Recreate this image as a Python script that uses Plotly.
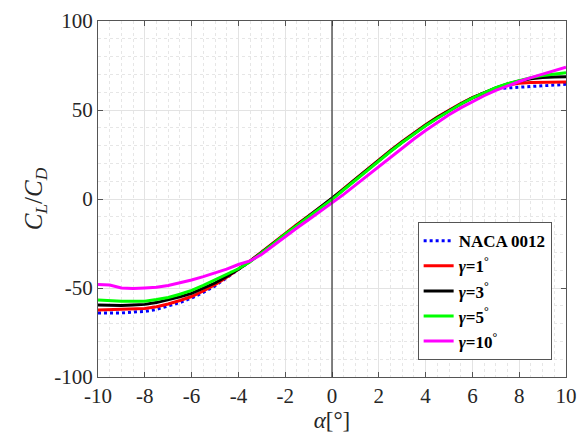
import plotly.graph_objects as go

alpha = [-10.0, -9.5, -9.0, -8.5, -8.0, -7.5, -7.0, -6.5, -6.0, -5.5,
         -5.0, -4.5, -4.0, -3.5, -3.0, -2.5, -2.0, -1.5, -1.0, -0.5,
         0.0, 0.5, 1.0, 1.5, 2.0, 2.5, 3.0, 3.5, 4.0, 4.5,
         5.0, 5.5, 6.0, 6.5, 7.0, 7.5, 8.0, 8.5, 9.0, 9.5, 10.0]

naca0012 = [-64.0, -64.0, -64.0, -63.5, -63.2, -62.0, -60.3, -58.2, -55.6, -52.5,
            -48.8, -44.3, -39.6, -35.0, -30.0, -24.8, -19.5, -14.6, -9.8, -4.9,
            0.0, 5.5, 11.0, 16.5, 22.0, 27.0, 32.0, 36.8, 41.4, 45.7,
            49.7, 53.4, 56.8, 59.7, 62.0, 62.6, 62.8, 63.2, 63.5, 64.0, 64.4]
gamma1 = [-62.4, -62.2, -62.0, -61.8, -61.5, -60.5, -59.0, -57.0, -54.8, -51.7,
          -48.2, -44.0, -39.6, -34.8, -29.7, -24.5, -19.2, -14.3, -9.5, -4.6,
          0.3, 5.8, 11.3, 16.8, 22.3, 27.3, 32.3, 37.1, 41.7, 46.0,
          50.0, 53.6, 56.9, 59.7, 62.2, 64.0, 65.0, 65.4, 65.6, 65.7, 65.7]
gamma3 = [-59.6, -59.8, -59.8, -59.5, -59.2, -58.2, -56.8, -55.0, -53.0, -50.3,
          -47.2, -43.5, -39.5, -35.0, -30.0, -24.8, -19.5, -14.6, -9.8, -4.9,
          0.0, 5.5, 11.0, 16.5, 22.0, 27.0, 32.0, 36.8, 41.4, 45.7,
          49.7, 53.4, 56.8, 59.8, 62.4, 64.6, 66.3, 67.5, 68.3, 68.6, 68.7]
gamma5 = [-56.7, -57.2, -57.5, -57.5, -57.4, -56.5, -55.3, -53.5, -51.3, -48.5,
          -45.5, -42.5, -39.2, -35.2, -30.3, -25.1, -19.8, -14.9, -10.1, -5.2,
          -0.3, 5.2, 10.7, 16.2, 21.7, 26.7, 31.7, 36.5, 41.1, 45.4,
          49.4, 53.2, 56.7, 59.8, 62.5, 64.8, 66.7, 68.2, 69.4, 70.3, 71.0]
gamma10 = [-48.0, -48.3, -50.0, -50.3, -50.0, -49.6, -48.6, -47.2, -45.5, -43.6,
           -41.5, -39.4, -36.8, -34.8, -31.0, -26.0, -21.0, -16.3, -11.7, -7.0,
           -2.4, 2.6, 7.8, 13.0, 18.2, 23.5, 28.7, 33.7, 38.5, 43.0,
           47.3, 51.2, 54.8, 58.0, 61.0, 63.6, 66.0, 68.2, 70.2, 72.2, 74.0]

x_ticks = [-10, -8, -6, -4, -2, 0, 2, 4, 6, 8, 10]
y_ticks = [-100, -50, 0, 50, 100]

series = [
    ("<b>NACA 0012</b>", naca0012, "#0000ff", "dot"),
    ("<b><i>γ</i>=1<sup>°</sup></b>", gamma1, "#ff0000", "solid"),
    ("<b><i>γ</i>=3<sup>°</sup></b>", gamma3, "#000000", "solid"),
    ("<b><i>γ</i>=5<sup>°</sup></b>", gamma5, "#00ff00", "solid"),
    ("<b><i>γ</i>=10<sup>°</sup></b>", gamma10, "#ff00ff", "solid"),
]

fig = go.Figure()
for name, ys, color, dash in series:
    fig.add_trace(go.Scatter(x=alpha, y=ys, mode="lines", name=name,
                             line=dict(color=color, width=3, dash=dash)))

fig.add_vline(x=0, line=dict(color="#333333", width=1.2), layer="above")

font_family = "Liberation Serif"
axis_common = dict(
    showline=True, linecolor="#555555", linewidth=1, mirror="ticks",
    ticks="inside", ticklen=5, tickcolor="#555555",
    showgrid=True, gridcolor="#e3e3e3", gridwidth=1,
    zeroline=False, automargin=False,
    tickfont=dict(family=font_family, size=21, color="#262626"),
)

fig.update_xaxes(range=[-10, 10], tickvals=x_ticks,
                 ticktext=[str(v) for v in x_ticks],
                 minor=dict(dtick=0.5, showgrid=True, gridcolor="#e6e6e6",
                            griddash="dot", gridwidth=1),
                 title=dict(text="<i>α</i>[°]", standoff=0,
                            font=dict(family=font_family, size=23, color="#262626")),
                 **axis_common)
fig.update_yaxes(range=[-100, 100], tickvals=y_ticks,
                 ticktext=[str(v) for v in y_ticks],
                 minor=dict(dtick=10, showgrid=True, gridcolor="#e6e6e6",
                            griddash="dot", gridwidth=1),
                 title=dict(text="<i>C</i><sub><i>L</i></sub>/<i>C</i><sub><i>D</i></sub>",
                            standoff=4,
                            font=dict(family=font_family, size=25, color="#262626")),
                 **axis_common)

fig.update_layout(
    width=577, height=441,
    margin=dict(l=98, r=11, t=21, b=64),
    paper_bgcolor="white", plot_bgcolor="white",
    font=dict(family=font_family),
    showlegend=True,
    legend=dict(x=0.683, y=0.435, xanchor="left", yanchor="top",
                bgcolor="white", bordercolor="#555555", borderwidth=1,
                font=dict(family=font_family, size=17, color="#000000"),
                itemwidth=30, tracegroupgap=0),
)

# remove the browser's default 8px body margin so the figure fills the window
fig.write_html("out.html",
               config={"displayModeBar": False},
               post_script="document.body.style.margin='0';")
